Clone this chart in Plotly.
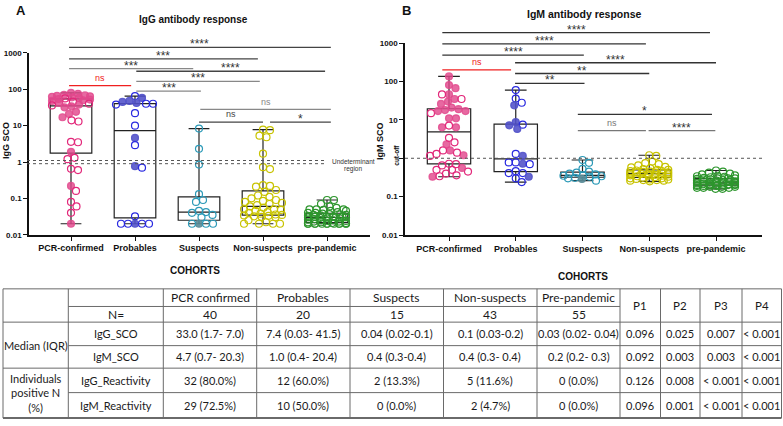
import numpy as np
import plotly.graph_objects as go

W, H = 783, 426

categories = ["PCR-confirmed", "Probables", "Suspects", "Non-suspects", "pre-pandemic"]

# ---------------- IgG SCO (panel A) ----------------
igg_pcr = [80, 75, 70, 68, 66, 64, 62, 60, 58, 56, 54, 52, 50, 48, 46, 44, 42, 40, 38, 36, 34, 32,
           24, 21, 17, 14, 13, 3.6, 3.5, 1.9, 1.3, 1.2, 0.65, 0.6, 0.22, 0.16, 0.08, 0.06, 0.04, 0.02]
igg_pcr_filled = [1, 1, 1, 1, 1, 1, 1, 1, 1, 0, 1, 1, 1, 1, 0, 0, 1, 0, 1, 0, 1, 1,
                  1, 1, 1, 0, 0, 0, 0, 1, 0, 0, 0, 0, 1, 0, 0, 0, 0, 1]
igg_prob = [65, 58, 48, 45, 42, 40, 40, 38, 22, 10, 4.6, 2.9, 0.77, 0.7, 0.032, 0.02, 0.02, 0.02, 0.02, 0.02]
igg_prob_filled = [0, 1, 1, 1, 1, 0, 0, 0, 0, 0, 1, 0, 1, 0, 0, 1, 0, 0, 0, 0]
igg_susp = [8.3, 2.3, 0.85, 0.13, 0.09, 0.08, 0.045, 0.042, 0.04, 0.035, 0.03, 0.02, 0.02, 0.02, 0.02]
igg_susp_filled = [0, 0, 0, 0, 0, 0, 0, 0, 0, 0, 0, 1, 0, 0, 0]
igg_nons = [7.8, 7.5, 5.3, 4.8, 1.7, 0.72, 0.64, 0.23, 0.22, 0.21, 0.17, 0.15, 0.12, 0.11, 0.1,
            0.09, 0.085, 0.08, 0.075, 0.07, 0.065, 0.06, 0.055, 0.05, 0.05, 0.048, 0.045, 0.042,
            0.04, 0.038, 0.036, 0.035, 0.034, 0.033, 0.032, 0.031, 0.03, 0.025, 0.022, 0.02, 0.02, 0.02, 0.02]
igg_pre = [0.09, 0.09, 0.07, 0.06, 0.055, 0.05, 0.05, 0.05, 0.048, 0.045, 0.045, 0.042, 0.04, 0.04,
           0.038, 0.037, 0.036, 0.035, 0.035, 0.034, 0.033, 0.032, 0.032, 0.031, 0.031, 0.03, 0.03, 0.03,
           0.029, 0.028, 0.028, 0.027, 0.026, 0.025, 0.025, 0.024, 0.024, 0.023, 0.023, 0.022, 0.022, 0.021,
           0.021, 0.02, 0.02, 0.02, 0.02, 0.02, 0.02, 0.02, 0.02, 0.02, 0.02, 0.02, 0.02]

# ---------------- IgM SCO (panel B) ----------------
igm_pcr = [0.33, 0.34, 0.36, 0.4, 0.45, 0.5, 0.5, 0.56, 0.65, 0.7, 0.72, 1.15, 1.2, 1.3, 1.4, 1.6, 1.6,
           2.3, 2.6, 3.4, 6.4, 6.4, 7.1, 11, 11, 15, 17, 17, 18, 19, 21, 26, 30, 35, 35, 46, 46, 67, 81, 136]
igm_pcr_filled = [1, 0, 0, 0, 0, 0, 0, 1, 0, 0, 0, 0, 1, 0, 0, 1, 0, 1, 0, 0,
                  1, 1, 0, 1, 1, 0, 1, 1, 1, 1, 1, 1, 1, 1, 0, 1, 0, 1, 1, 1]
igm_prob = [60, 36, 28, 24, 8.7, 7.5, 7.2, 5.8, 1.3, 1.15, 0.78, 0.78, 0.72, 0.7, 0.46, 0.41, 0.41, 0.33, 0.3, 0.24]
igm_prob_filled = [0, 0, 0, 1, 1, 0, 1, 1, 0, 1, 0, 0, 1, 0, 0, 0, 0, 1, 0, 0]
igm_susp = [0.9, 0.76, 0.53, 0.45, 0.42, 0.4, 0.38, 0.36, 0.35, 0.34, 0.33, 0.31, 0.29, 0.3, 0.26]
igm_susp_filled = [0, 0, 0, 0, 0, 0, 0, 0, 0, 0, 0, 0, 1, 0, 0]
igm_nons = [1.2, 1.15, 0.82, 0.75, 0.7, 0.65, 0.6, 0.58, 0.55, 0.52, 0.5, 0.5,
            0.48, 0.47, 0.46, 0.45, 0.44, 0.43, 0.42, 0.42, 0.41, 0.4,
            0.4, 0.39, 0.38, 0.37, 0.36, 0.35, 0.35, 0.34, 0.33, 0.32,
            0.31, 0.3, 0.3, 0.29, 0.28, 0.28, 0.27, 0.27, 0.26, 0.26, 0.25]
igm_pre = [0.48, 0.45, 0.42, 0.4, 0.38, 0.36, 0.35, 0.34, 0.33, 0.32, 0.31, 0.3, 0.3, 0.3,
           0.29, 0.28, 0.28, 0.27, 0.27, 0.26, 0.26, 0.25, 0.25, 0.25, 0.24, 0.24, 0.24, 0.23,
           0.23, 0.23, 0.22, 0.22, 0.22, 0.22, 0.21, 0.21, 0.21, 0.21, 0.2, 0.2, 0.2, 0.2,
           0.2, 0.2, 0.19, 0.19, 0.19, 0.18, 0.18, 0.18, 0.17, 0.17, 0.17, 0.16, 0.16]

y_tick_vals = [0.01, 0.1, 1, 10, 100, 1000]
y_tick_text_a = ["0.01", "0.1", "1", "10", "100", "1000"]
y_tick_text_b = ["0.01", "0.1", "", "10", "100", "1000"]   # "1" is replaced by the cut-off label

# ---------------- table text ----------------
table_cohorts = ["PCR confirmed", "Probables", "Suspects", "Non-suspects", "Pre-pandemic"]
table_n = ["40", "20", "15", "43", "55"]
table_p_headers = ["P1", "P2", "P3", "P4"]
table_row_labels = ["IgG_SCO", "IgM_SCO", "IgG_Reactivity", "IgM_Reactivity"]
igg_sco_median = ["33.0 (1.7- 7.0)", "7.4 (0.03- 41.5)", "0.04 (0.02-0.1)", "0.1 (0.03-0.2)", "0.03 (0.02- 0.04)"]
igm_sco_median = ["4.7 (0.7- 20.3)", "1.0 (0.4- 20.4)", "0.4 (0.3-0.4)", "0.4 (0.3- 0.4)", "0.2 (0.2- 0.3)"]
igg_reactivity = ["32 (80.0%)", "12 (60.0%)", "2 (13.3%)", "5 (11.6%)", "0 (0.0%)"]
igm_reactivity = ["29 (72.5%)", "10 (50.0%)", "0 (0.0%)", "2 (4.7%)", "0 (0.0%)"]
p_igg_sco = ["0.096", "0.025", "0.007", "< 0.001"]
p_igm_sco = ["0.092", "0.003", "0.003", "< 0.001"]
p_igg_react = ["0.126", "0.008", "< 0.001", "< 0.001"]
p_igm_react = ["0.096", "0.001", "< 0.001", "< 0.001"]

# ---------------- styling / layout ----------------
ring_colors = ["#E2287A", "#2A2AE0", "#2C9AB8", "#C8C300", "#2E962E"]
fill_colors = ["rgba(226,72,140,0.82)", "rgba(80,80,200,0.88)", "rgba(90,140,152,0.9)",
               "rgba(200,195,0,0.9)", "rgba(46,150,46,0.9)"]

FONT = "Liberation Sans"
TFONT = "Lato"


def fx(px):
    return px / W


def fy(py):
    return 1 - py / H


panels = {
    "A": dict(xa="x", ya="y", x0=29, x1=370, ytop=50, ybot=235.7, cat0=71, step=64.0),
    "B": dict(xa="x2", ya="y2", x0=405, x1=762, ytop=40, ybot=236, cat0=449, step=66.75),
}


def swarm(vals, px_dec, step, diam=7.0, half=19.0):
    ys = np.log10(np.asarray(vals, float)) * px_dec
    c = np.arange(0.5, half + 0.01, 0.5)
    cands = np.concatenate([[0.0], np.ravel(np.column_stack([c, -c]))])
    placed = []
    offs = np.zeros(len(ys))
    for i in np.argsort(-ys, kind="stable"):
        best_c, best_cost = 0.0, None
        for cc in cands:
            cost = 0.0
            for (px, py) in placed:
                d = np.hypot(cc - px, ys[i] - py)
                if d < diam:
                    cost += diam - d
            if best_cost is None or cost < best_cost - 1e-9:
                best_cost, best_c = cost, cc
            if cost == 0:
                break
        offs[i] = best_c
        placed.append((best_c, ys[i]))
    return offs / step


fig = go.Figure()

groups = {
    "A": [(igg_pcr, igg_pcr_filled), (igg_prob, igg_prob_filled), (igg_susp, igg_susp_filled),
          (igg_nons, [0] * len(igg_nons)), (igg_pre, [0] * len(igg_pre))],
    "B": [(igm_pcr, igm_pcr_filled), (igm_prob, igm_prob_filled), (igm_susp, igm_susp_filled),
          (igm_nons, [0] * len(igm_nons)), (igm_pre, [0] * len(igm_pre))],
}

for key, pan in panels.items():
    px_dec = (pan["ybot"] - pan["ytop"]) / 5.0
    for i, (vals, filled) in enumerate(groups[key]):
        arr = np.asarray(vals, float)
        q1, med, q3 = np.percentile(arr, [25, 50, 75])
        fig.add_trace(go.Box(
            x=[i], q1=[q1], median=[med], q3=[q3], lowerfence=[arr.min()], upperfence=[arr.max()],
            orientation="v", width=0.65, whiskerwidth=0.5, boxpoints=False,
            line=dict(color="#222222", width=1.2), fillcolor="rgba(0,0,0,0)",
            xaxis=pan["xa"], yaxis=pan["ya"], showlegend=False, hoverinfo="skip"))
        offs = swarm(vals, px_dec, pan["step"])
        fcol = [fill_colors[i] if f else "rgba(0,0,0,0)" for f in filled]
        lcol = [fill_colors[i] if f else ring_colors[i] for f in filled]
        fig.add_trace(go.Scatter(
            x=i + offs, y=arr, mode="markers",
            marker=dict(size=7, color=fcol, line=dict(color=lcol, width=1.2)),
            xaxis=pan["xa"], yaxis=pan["ya"], showlegend=False, hoverinfo="skip"))

# significance brackets: (panel, x_from, x_to, label, line_y_px, colour)
brackets = [
    ("A", -0.03, 4.06, "****", 44.3, "#444"),
    ("A", -0.03, 2.92, "***", 56.0, "#444"),
    ("A", -0.03, 1.91, "***", 66.0, "#888"),
    ("A", 1.02, 3.97, "****", 68.7, "#444"),
    ("A", -0.03, 0.94, "ns", 83.3, "#F02020"),
    ("A", 1.02, 2.95, "***", 79.0, "#888"),
    ("A", 1.02, 2.03, "***", 89.0, "#888"),
    ("A", 2.02, 4.06, "ns", 107.7, "#888"),
    ("A", 2.00, 3.00, "ns", 120.7, "#444"),
    ("A", 3.11, 4.06, "*", 120.7, "#444"),
    ("B", -0.10, 3.91, "****", 29.3, "#333"),
    ("B", -0.10, 2.95, "****", 40.7, "#333"),
    ("B", -0.10, 2.02, "****", 52.3, "#333"),
    ("B", 0.99, 4.00, "****", 60.0, "#333"),
    ("B", -0.10, 0.93, "ns", 67.3, "#F02020"),
    ("B", 0.99, 3.00, "**", 71.0, "#333"),
    ("B", 0.99, 2.03, "**", 81.0, "#333"),
    ("B", 1.93, 3.94, "*", 112.7, "#333"),
    ("B", 1.93, 2.95, "ns", 129.3, "#777"),
    ("B", 2.99, 3.99, "****", 129.3, "#777"),
]

shapes = []
annotations = []

for pan_key, a, b, lab, ly, col in brackets:
    pan = panels[pan_key]
    shapes.append(dict(type="line", xref=pan["xa"], yref="paper", x0=a, x1=b,
                       y0=fy(ly), y1=fy(ly), line=dict(color=col, width=1.3)))
    is_ns = lab == "ns"
    tcol = col if is_ns else "#333"
    annotations.append(dict(
        x=(a + b) / 2, y=fy(ly - (8 if is_ns else 3)), xref=pan["xa"], yref="paper",
        text=lab, showarrow=False, xanchor="center", yanchor="middle",
        font=dict(family=FONT, size=(9 if is_ns else 12), color=tcol)))

# dotted cut-off lines
shapes.append(dict(type="line", xref="paper", yref="y", x0=fx(27), x1=fx(325), y0=1.1, y1=1.1,
                   line=dict(color="#555", width=1, dash="dot")))
shapes.append(dict(type="line", xref="paper", yref="y", x0=fx(27), x1=fx(325), y0=0.9, y1=0.9,
                   line=dict(color="#555", width=1, dash="dot")))
shapes.append(dict(type="line", xref="paper", yref="y2", x0=fx(405), x1=fx(763), y0=1, y1=1,
                   line=dict(color="#555", width=1, dash="dot")))


def ann(x, y, text, size, bold=False, color="#111", angle=0, family=FONT, xanchor="center"):
    annotations.append(dict(x=fx(x), y=fy(y), xref="paper", yref="paper", text=text,
                            showarrow=False, xanchor=xanchor, yanchor="middle", textangle=angle,
                            font=dict(family=family, size=size, color=color,
                                      weight=("bold" if bold else "normal"))))


ann(21, 7, "A", 13, bold=True)
ann(406, 7, "B", 13, bold=True)
ann(193, 16, "IgG antibody response", 10, bold=True)
ann(584, 10, "IgM antibody response", 10.5, bold=True)
ann(6, 140, "IgG SCO", 9, bold=True, angle=-90)
ann(380, 140, "IgM SCO", 9, bold=True, angle=-90)
ann(397, 155, "cut-off", 6.5, bold=True, angle=-90)
ann(353, 160.5, "Undeterminant", 6.5, color="#333")
ann(353, 169, "region", 6.5, color="#333")
ann(195, 272, "COHORTS", 10, bold=True)
ann(583, 278, "COHORTS", 10, bold=True)

# ---------------- table ----------------
col_x = [3, 68.3, 163.3, 256.7, 350, 443.5, 537, 620, 660.5, 700, 742, 781.5]
row_y = [291, 309, 325, 349, 372, 397, 423]
LC = "#6a6a6a"


def hline(y, xa, xb, w=1):
    shapes.append(dict(type="line", xref="paper", yref="paper", x0=fx(xa), x1=fx(xb),
                       y0=fy(y), y1=fy(y), line=dict(color=LC, width=w)))


def vline(x, ya, yb):
    shapes.append(dict(type="line", xref="paper", yref="paper", x0=fx(x), x1=fx(x),
                       y0=fy(ya), y1=fy(yb), line=dict(color=LC, width=1)))


hline(row_y[0], col_x[0], col_x[-1])
hline(row_y[1], col_x[1], col_x[7])
hline(row_y[2], col_x[0], col_x[-1])
hline(row_y[3], col_x[1], col_x[-1])
hline(row_y[4], col_x[0], col_x[-1])
hline(row_y[5], col_x[1], col_x[-1])
hline(row_y[6], col_x[0], col_x[-1], w=2)
for xv in col_x:
    vline(xv, row_y[0], row_y[6])


def cell(ci, r0, r1, text, size=11):
    xc = (col_x[ci] + col_x[ci + 1]) / 2
    yc = (row_y[r0] + row_y[r1]) / 2
    ann(xc, yc, text, size, family=TFONT, color="#1a1a1a")


for k in range(5):
    cell(2 + k, 0, 1, table_cohorts[k], 12)
    cell(2 + k, 1, 2, table_n[k], 12)
    cell(2 + k, 2, 3, igg_sco_median[k])
    cell(2 + k, 3, 4, igm_sco_median[k])
    cell(2 + k, 4, 5, igg_reactivity[k])
    cell(2 + k, 5, 6, igm_reactivity[k])
for k in range(4):
    cell(7 + k, 0, 2, table_p_headers[k], 11.5)
    cell(7 + k, 2, 3, p_igg_sco[k])
    cell(7 + k, 3, 4, p_igm_sco[k])
    cell(7 + k, 4, 5, p_igg_react[k])
    cell(7 + k, 5, 6, p_igm_react[k])
cell(1, 1, 2, "N=", 12)
for r, lab in enumerate(table_row_labels):
    cell(1, 2 + r, 3 + r, lab, 11)
cell(0, 2, 4, "Median (IQR)", 11)
cell(0, 4, 6, "Individuals<br>positive N<br>(%)", 11)

# ---------------- axes ----------------
def xaxis_cfg(pan):
    return dict(domain=[fx(pan["x0"]), fx(pan["x1"])],
                range=[(pan["x0"] - pan["cat0"]) / pan["step"], (pan["x1"] - pan["cat0"]) / pan["step"]],
                tickvals=list(range(len(categories))), ticktext=categories,
                tickfont=dict(family=FONT, size=9, color="#111", weight="bold"),
                showline=True, linecolor="#111", linewidth=1.6, ticks="outside", ticklen=4,
                tickwidth=1.4, tickcolor="#111", showgrid=False, zeroline=False, fixedrange=True)


def yaxis_cfg(pan, ticktext):
    return dict(type="log", domain=[fy(pan["ybot"]), fy(pan["ytop"])], range=[-2, 3],
                tickvals=y_tick_vals, ticktext=ticktext,
                tickfont=dict(family=FONT, size=8, color="#111", weight="bold"),
                showline=True, linecolor="#111", linewidth=1.6, ticks="outside", ticklen=4,
                tickwidth=1.4, tickcolor="#111", showgrid=False, zeroline=False, fixedrange=True)


xa = xaxis_cfg(panels["A"]); xa["anchor"] = "y"
ya = yaxis_cfg(panels["A"], y_tick_text_a); ya["anchor"] = "x"
xb = xaxis_cfg(panels["B"]); xb["anchor"] = "y2"
yb = yaxis_cfg(panels["B"], y_tick_text_b); yb["anchor"] = "x2"

fig.update_layout(
    width=W, height=H, margin=dict(l=0, r=0, t=0, b=0),
    paper_bgcolor="white", plot_bgcolor="rgba(0,0,0,0)",
    xaxis=xa, yaxis=ya, xaxis2=xb, yaxis2=yb,
    shapes=shapes, annotations=annotations, showlegend=False,
)

fig.write_html("out.html", config={"displayModeBar": False},
               post_script="document.body.style.margin='0px';")
